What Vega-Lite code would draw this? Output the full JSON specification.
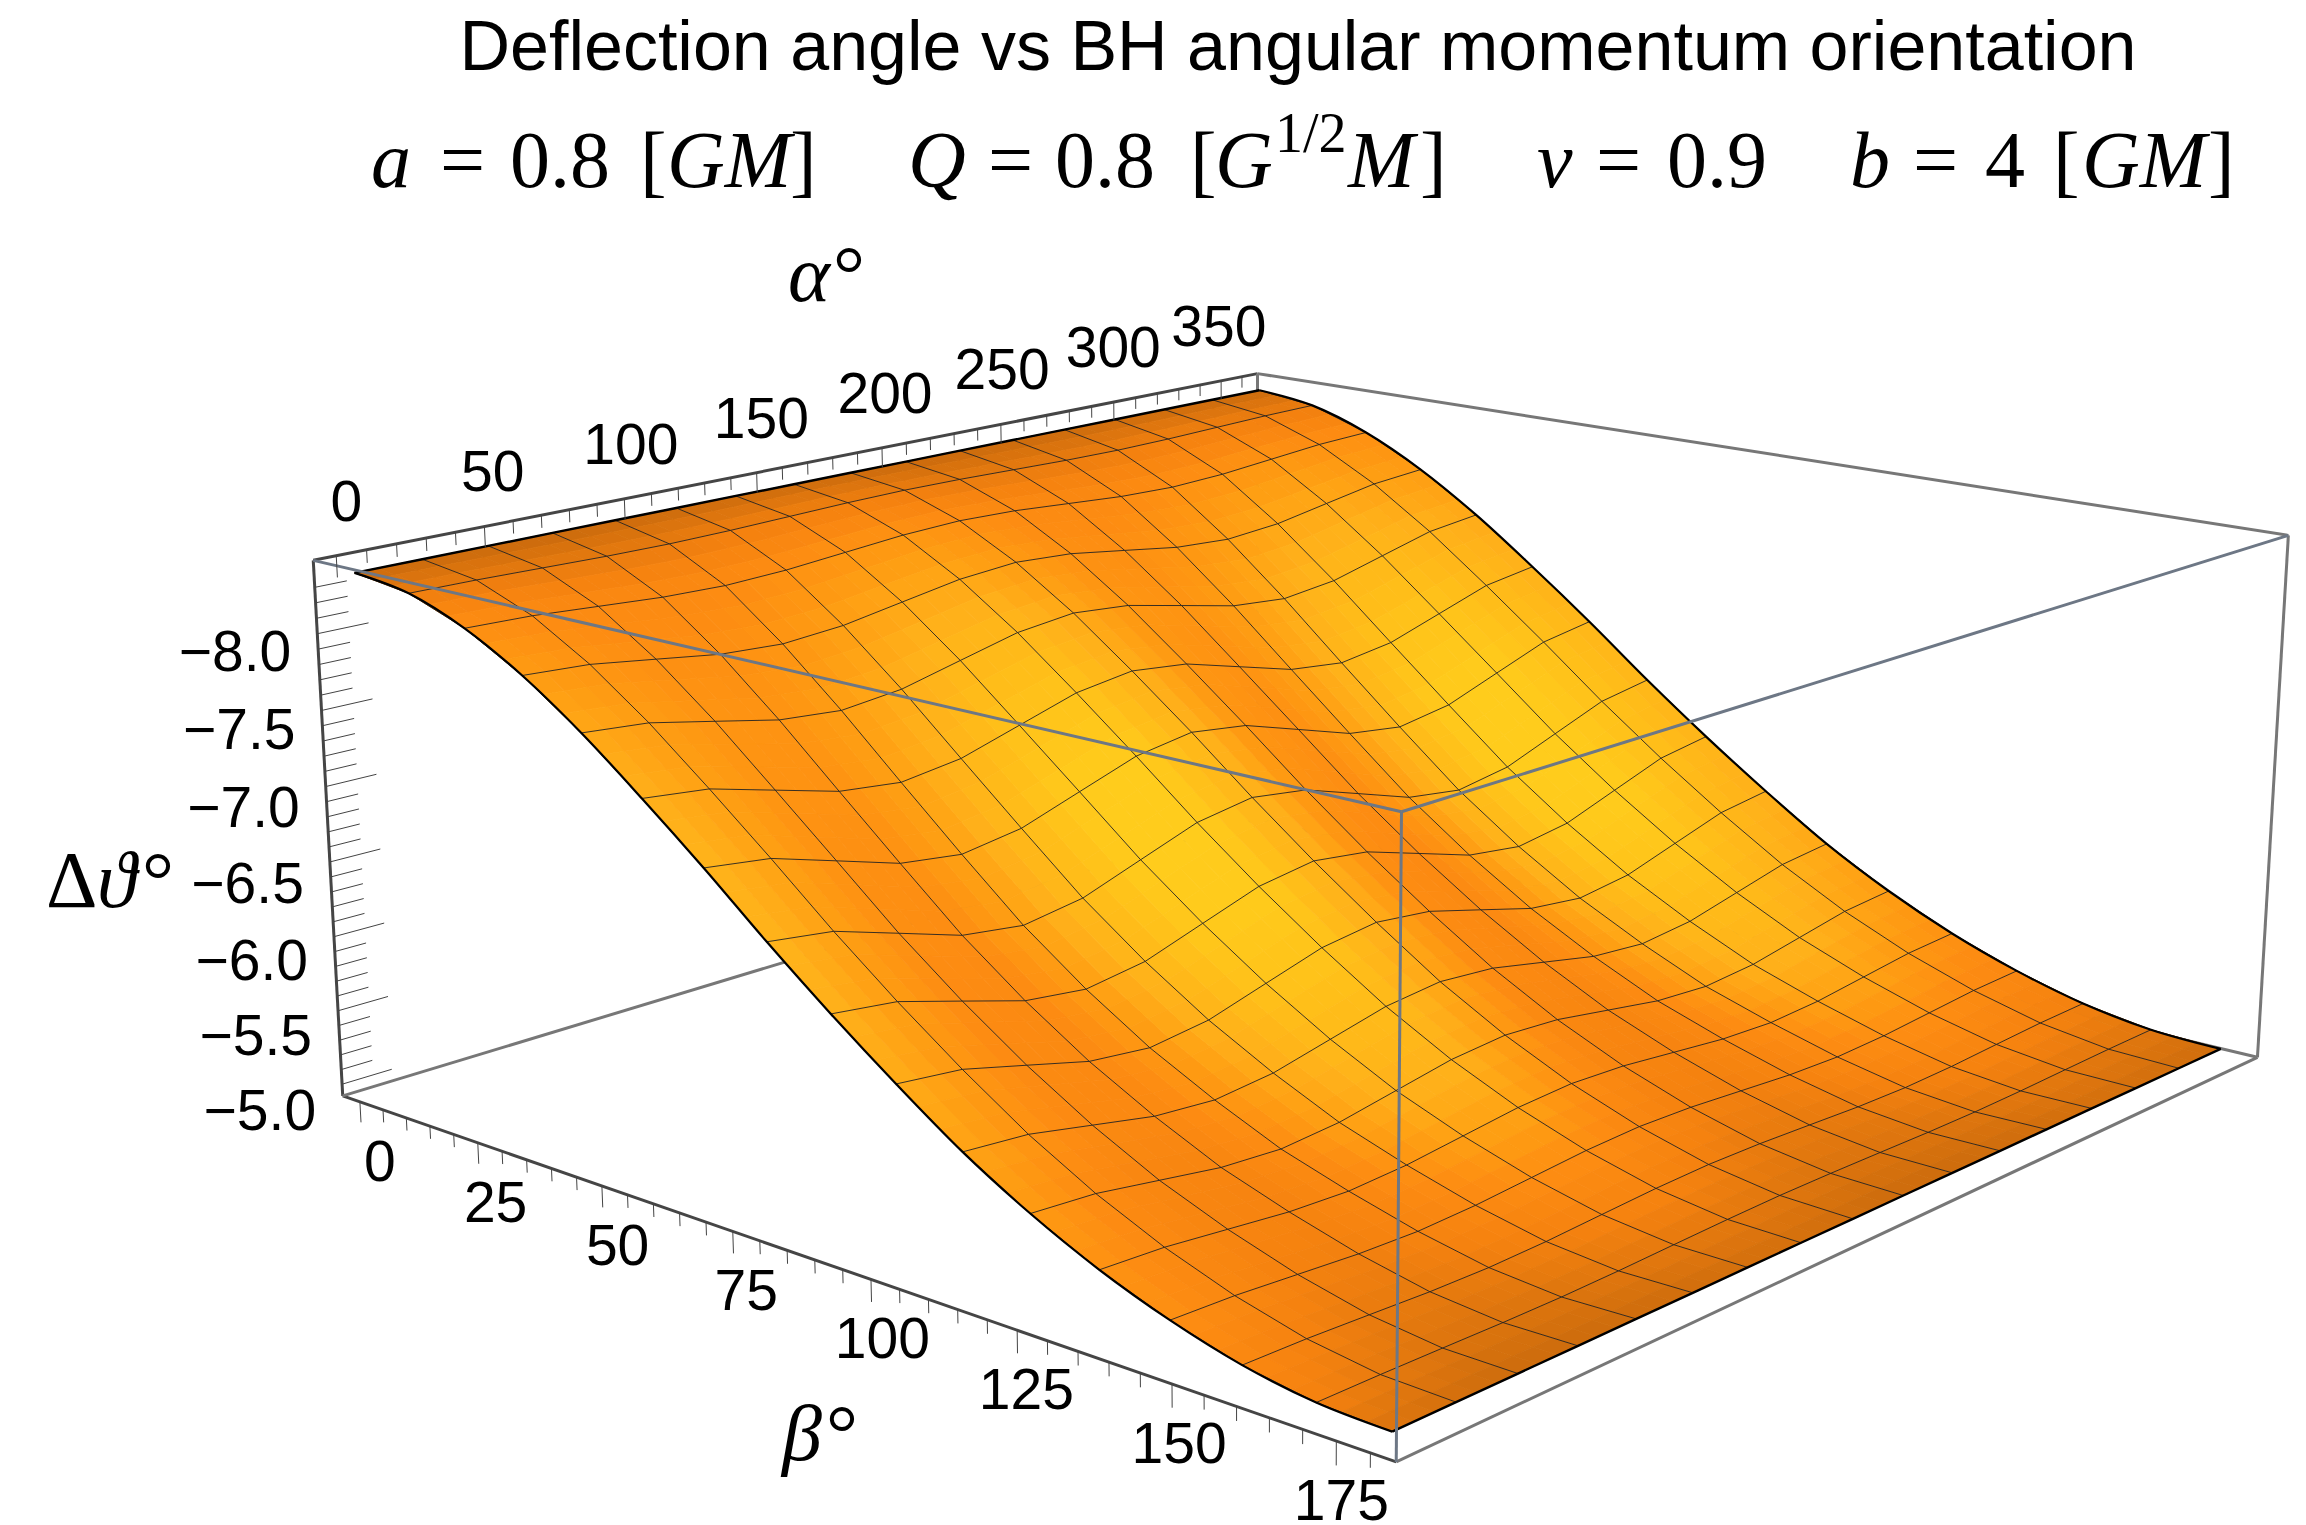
{"$schema":"https://vega.github.io/schema/vega-lite/v6.json","width":2306,"height":1525,"padding":0,"autosize":"none","background":"white","config":{"view":{"stroke":null},"axis":{"disable":true},"legend":{"disable":true}},
"datasets":{
"frame":[{"e":"AB","g":"dark","a":-7.5,"b":-3.75,"z":-8.474,"k":0},{"e":"AB","g":"dark","a":367.5,"b":-3.75,"z":-8.474,"k":1},{"e":"AA","g":"dark","a":-7.5,"b":-3.75,"z":-8.474,"k":0},{"e":"AA","g":"dark","a":-7.5,"b":-3.75,"z":-4.92,"k":1},{"e":"LB","g":"dark","a":-7.5,"b":-3.75,"z":-4.92,"k":0},{"e":"LB","g":"dark","a":-7.5,"b":183.75,"z":-4.92,"k":1},{"e":"BC","g":"grey","a":367.5,"b":-3.75,"z":-8.474,"k":0},{"e":"BC","g":"grey","a":367.5,"b":183.75,"z":-8.474,"k":1},{"e":"CC","g":"grey","a":367.5,"b":183.75,"z":-8.474,"k":0},{"e":"CC","g":"grey","a":367.5,"b":183.75,"z":-4.92,"k":1},{"e":"DC","g":"grey","a":-7.5,"b":183.75,"z":-4.92,"k":0},{"e":"DC","g":"grey","a":367.5,"b":183.75,"z":-4.92,"k":1},{"e":"BK1","g":"grey","a":-7.5,"b":-3.75,"z":-4.92,"k":0},{"e":"BK1","g":"grey","a":367.5,"b":-3.75,"z":-4.92,"k":1},{"e":"BK2","g":"grey","a":367.5,"b":-3.75,"z":-4.92,"k":0},{"e":"BK2","g":"grey","a":367.5,"b":183.75,"z":-4.92,"k":1},{"e":"BK3","g":"grey","a":367.5,"b":-3.75,"z":-8.474,"k":0},{"e":"BK3","g":"grey","a":367.5,"b":-3.75,"z":-4.92,"k":1},{"e":"F1","g":"front","a":-7.5,"b":-3.75,"z":-8.474,"k":0},{"e":"F1","g":"front","a":-7.5,"b":183.75,"z":-8.474,"k":1},{"e":"F2","g":"front","a":-7.5,"b":183.75,"z":-8.474,"k":0},{"e":"F2","g":"front","a":367.5,"b":183.75,"z":-8.474,"k":1},{"e":"F3","g":"front","a":-7.5,"b":183.75,"z":-8.474,"k":0},{"e":"F3","g":"front","a":-7.5,"b":183.75,"z":-4.92,"k":1}],
"ticks":[{"axis":"a","v":0},{"axis":"a","v":10},{"axis":"a","v":20},{"axis":"a","v":30},{"axis":"a","v":40},{"axis":"a","v":50},{"axis":"a","v":60},{"axis":"a","v":70},{"axis":"a","v":80},{"axis":"a","v":90},{"axis":"a","v":100},{"axis":"a","v":110},{"axis":"a","v":120},{"axis":"a","v":130},{"axis":"a","v":140},{"axis":"a","v":150},{"axis":"a","v":160},{"axis":"a","v":170},{"axis":"a","v":180},{"axis":"a","v":190},{"axis":"a","v":200},{"axis":"a","v":210},{"axis":"a","v":220},{"axis":"a","v":230},{"axis":"a","v":240},{"axis":"a","v":250},{"axis":"a","v":260},{"axis":"a","v":270},{"axis":"a","v":280},{"axis":"a","v":290},{"axis":"a","v":300},{"axis":"a","v":310},{"axis":"a","v":320},{"axis":"a","v":330},{"axis":"a","v":340},{"axis":"a","v":350},{"axis":"a","v":360},
{"axis":"b","v":0},{"axis":"b","v":5},{"axis":"b","v":10},{"axis":"b","v":15},{"axis":"b","v":20},{"axis":"b","v":25},{"axis":"b","v":30},{"axis":"b","v":35},{"axis":"b","v":40},{"axis":"b","v":45},{"axis":"b","v":50},{"axis":"b","v":55},{"axis":"b","v":60},{"axis":"b","v":65},{"axis":"b","v":70},{"axis":"b","v":75},{"axis":"b","v":80},{"axis":"b","v":85},{"axis":"b","v":90},{"axis":"b","v":95},{"axis":"b","v":100},{"axis":"b","v":105},{"axis":"b","v":110},{"axis":"b","v":115},{"axis":"b","v":120},{"axis":"b","v":125},{"axis":"b","v":130},{"axis":"b","v":135},{"axis":"b","v":140},{"axis":"b","v":145},{"axis":"b","v":150},{"axis":"b","v":155},{"axis":"b","v":160},{"axis":"b","v":165},{"axis":"b","v":170},{"axis":"b","v":175},{"axis":"b","v":180},
{"axis":"z","v":-5.0},{"axis":"z","v":-5.1},{"axis":"z","v":-5.2},{"axis":"z","v":-5.3},{"axis":"z","v":-5.4},{"axis":"z","v":-5.5},{"axis":"z","v":-5.6},{"axis":"z","v":-5.7},{"axis":"z","v":-5.8},{"axis":"z","v":-5.9},{"axis":"z","v":-6.0},{"axis":"z","v":-6.1},{"axis":"z","v":-6.2},{"axis":"z","v":-6.3},{"axis":"z","v":-6.4},{"axis":"z","v":-6.5},{"axis":"z","v":-6.6},{"axis":"z","v":-6.7},{"axis":"z","v":-6.8},{"axis":"z","v":-6.9},{"axis":"z","v":-7.0},{"axis":"z","v":-7.1},{"axis":"z","v":-7.2},{"axis":"z","v":-7.3},{"axis":"z","v":-7.4},{"axis":"z","v":-7.5},{"axis":"z","v":-7.6},{"axis":"z","v":-7.7},{"axis":"z","v":-7.8},{"axis":"z","v":-7.9},{"axis":"z","v":-8.0},{"axis":"z","v":-8.1},{"axis":"z","v":-8.2},{"axis":"z","v":-8.3}],
"grid":[
{"a":0,"b":0,"z":-8.39,"c":0.05},{"a":22.5,"b":0,"z":-8.39,"c":0.05},{"a":45,"b":0,"z":-8.39,"c":0.04},{"a":67.5,"b":0,"z":-8.39,"c":0.04},{"a":90,"b":0,"z":-8.39,"c":0.05},{"a":112.5,"b":0,"z":-8.39,"c":0.05},{"a":135,"b":0,"z":-8.39,"c":0.06},{"a":157.5,"b":0,"z":-8.39,"c":0.06},{"a":180,"b":0,"z":-8.39,"c":0.05},{"a":202.5,"b":0,"z":-8.39,"c":0.04},{"a":225,"b":0,"z":-8.39,"c":0.04},{"a":247.5,"b":0,"z":-8.39,"c":0.05},{"a":270,"b":0,"z":-8.39,"c":0.05},{"a":292.5,"b":0,"z":-8.39,"c":0.06},{"a":315,"b":0,"z":-8.39,"c":0.06},{"a":337.5,"b":0,"z":-8.39,"c":0.05},{"a":360,"b":0,"z":-8.39,"c":0.05},
{"a":0,"b":11.25,"z":-8.339,"c":0.25},{"a":22.5,"b":11.25,"z":-8.334,"c":0.23},{"a":45,"b":11.25,"z":-8.323,"c":0.22},{"a":67.5,"b":11.25,"z":-8.312,"c":0.22},{"a":90,"b":11.25,"z":-8.307,"c":0.23},{"a":112.5,"b":11.25,"z":-8.312,"c":0.26},{"a":135,"b":11.25,"z":-8.323,"c":0.28},{"a":157.5,"b":11.25,"z":-8.334,"c":0.28},{"a":180,"b":11.25,"z":-8.339,"c":0.25},{"a":202.5,"b":11.25,"z":-8.334,"c":0.22},{"a":225,"b":11.25,"z":-8.323,"c":0.22},{"a":247.5,"b":11.25,"z":-8.312,"c":0.23},{"a":270,"b":11.25,"z":-8.307,"c":0.25},{"a":292.5,"b":11.25,"z":-8.312,"c":0.28},{"a":315,"b":11.25,"z":-8.323,"c":0.28},{"a":337.5,"b":11.25,"z":-8.334,"c":0.26},{"a":360,"b":11.25,"z":-8.339,"c":0.25},
{"a":0,"b":22.5,"z":-8.199,"c":0.47},{"a":22.5,"b":22.5,"z":-8.185,"c":0.44},{"a":45,"b":22.5,"z":-8.153,"c":0.42},{"a":67.5,"b":22.5,"z":-8.121,"c":0.42},{"a":90,"b":22.5,"z":-8.107,"c":0.44},{"a":112.5,"b":22.5,"z":-8.121,"c":0.48},{"a":135,"b":22.5,"z":-8.153,"c":0.51},{"a":157.5,"b":22.5,"z":-8.185,"c":0.52},{"a":180,"b":22.5,"z":-8.199,"c":0.47},{"a":202.5,"b":22.5,"z":-8.185,"c":0.43},{"a":225,"b":22.5,"z":-8.153,"c":0.42},{"a":247.5,"b":22.5,"z":-8.121,"c":0.44},{"a":270,"b":22.5,"z":-8.107,"c":0.48},{"a":292.5,"b":22.5,"z":-8.121,"c":0.51},{"a":315,"b":22.5,"z":-8.153,"c":0.52},{"a":337.5,"b":22.5,"z":-8.185,"c":0.49},{"a":360,"b":22.5,"z":-8.199,"c":0.47},
{"a":0,"b":33.75,"z":-7.987,"c":0.56},{"a":22.5,"b":33.75,"z":-7.959,"c":0.51},{"a":45,"b":33.75,"z":-7.895,"c":0.47},{"a":67.5,"b":33.75,"z":-7.83,"c":0.47},{"a":90,"b":33.75,"z":-7.802,"c":0.51},{"a":112.5,"b":33.75,"z":-7.83,"c":0.58},{"a":135,"b":33.75,"z":-7.895,"c":0.64},{"a":157.5,"b":33.75,"z":-7.959,"c":0.64},{"a":180,"b":33.75,"z":-7.987,"c":0.56},{"a":202.5,"b":33.75,"z":-7.959,"c":0.48},{"a":225,"b":33.75,"z":-7.895,"c":0.47},{"a":247.5,"b":33.75,"z":-7.83,"c":0.51},{"a":270,"b":33.75,"z":-7.802,"c":0.57},{"a":292.5,"b":33.75,"z":-7.83,"c":0.64},{"a":315,"b":33.75,"z":-7.895,"c":0.65},{"a":337.5,"b":33.75,"z":-7.959,"c":0.6},{"a":360,"b":33.75,"z":-7.987,"c":0.56},
{"a":0,"b":45,"z":-7.717,"c":0.65},{"a":22.5,"b":45,"z":-7.677,"c":0.57},{"a":45,"b":45,"z":-7.584,"c":0.51},{"a":67.5,"b":45,"z":-7.49,"c":0.5},{"a":90,"b":45,"z":-7.45,"c":0.57},{"a":112.5,"b":45,"z":-7.49,"c":0.68},{"a":135,"b":45,"z":-7.584,"c":0.78},{"a":157.5,"b":45,"z":-7.677,"c":0.79},{"a":180,"b":45,"z":-7.717,"c":0.65},{"a":202.5,"b":45,"z":-7.677,"c":0.52},{"a":225,"b":45,"z":-7.584,"c":0.5},{"a":247.5,"b":45,"z":-7.49,"c":0.56},{"a":270,"b":45,"z":-7.45,"c":0.67},{"a":292.5,"b":45,"z":-7.49,"c":0.78},{"a":315,"b":45,"z":-7.584,"c":0.79},{"a":337.5,"b":45,"z":-7.677,"c":0.72},{"a":360,"b":45,"z":-7.717,"c":0.66},
{"a":0,"b":56.25,"z":-7.404,"c":0.71},{"a":22.5,"b":56.25,"z":-7.354,"c":0.59},{"a":45,"b":56.25,"z":-7.237,"c":0.5},{"a":67.5,"b":56.25,"z":-7.12,"c":0.49},{"a":90,"b":56.25,"z":-7.07,"c":0.59},{"a":112.5,"b":56.25,"z":-7.12,"c":0.75},{"a":135,"b":56.25,"z":-7.237,"c":0.9},{"a":157.5,"b":56.25,"z":-7.354,"c":0.91},{"a":180,"b":56.25,"z":-7.404,"c":0.71},{"a":202.5,"b":56.25,"z":-7.354,"c":0.52},{"a":225,"b":56.25,"z":-7.237,"c":0.49},{"a":247.5,"b":56.25,"z":-7.12,"c":0.58},{"a":270,"b":56.25,"z":-7.07,"c":0.74},{"a":292.5,"b":56.25,"z":-7.12,"c":0.9},{"a":315,"b":56.25,"z":-7.237,"c":0.92},{"a":337.5,"b":56.25,"z":-7.354,"c":0.81},{"a":360,"b":56.25,"z":-7.404,"c":0.72},
{"a":0,"b":67.5,"z":-7.074,"c":0.75},{"a":22.5,"b":67.5,"z":-7.017,"c":0.6},{"a":45,"b":67.5,"z":-6.886,"c":0.48},{"a":67.5,"b":67.5,"z":-6.754,"c":0.47},{"a":90,"b":67.5,"z":-6.697,"c":0.6},{"a":112.5,"b":67.5,"z":-6.754,"c":0.81},{"a":135,"b":67.5,"z":-6.886,"c":0.99},{"a":157.5,"b":67.5,"z":-7.017,"c":1},{"a":180,"b":67.5,"z":-7.074,"c":0.75},{"a":202.5,"b":67.5,"z":-7.017,"c":0.51},{"a":225,"b":67.5,"z":-6.886,"c":0.47},{"a":247.5,"b":67.5,"z":-6.754,"c":0.58},{"a":270,"b":67.5,"z":-6.697,"c":0.79},{"a":292.5,"b":67.5,"z":-6.754,"c":0.99},{"a":315,"b":67.5,"z":-6.886,"c":1},{"a":337.5,"b":67.5,"z":-7.017,"c":0.88},{"a":360,"b":67.5,"z":-7.074,"c":0.76},
{"a":0,"b":78.75,"z":-6.725,"c":0.75},{"a":22.5,"b":78.75,"z":-6.667,"c":0.59},{"a":45,"b":78.75,"z":-6.532,"c":0.47},{"a":67.5,"b":78.75,"z":-6.396,"c":0.45},{"a":90,"b":78.75,"z":-6.338,"c":0.59},{"a":112.5,"b":78.75,"z":-6.396,"c":0.81},{"a":135,"b":78.75,"z":-6.532,"c":1},{"a":157.5,"b":78.75,"z":-6.667,"c":1},{"a":180,"b":78.75,"z":-6.725,"c":0.75},{"a":202.5,"b":78.75,"z":-6.667,"c":0.5},{"a":225,"b":78.75,"z":-6.532,"c":0.45},{"a":247.5,"b":78.75,"z":-6.396,"c":0.57},{"a":270,"b":78.75,"z":-6.338,"c":0.8},{"a":292.5,"b":78.75,"z":-6.396,"c":1},{"a":315,"b":78.75,"z":-6.532,"c":1},{"a":337.5,"b":78.75,"z":-6.667,"c":0.89},{"a":360,"b":78.75,"z":-6.725,"c":0.77},
{"a":0,"b":90,"z":-6.395,"c":0.72},{"a":22.5,"b":90,"z":-6.341,"c":0.56},{"a":45,"b":90,"z":-6.215,"c":0.44},{"a":67.5,"b":90,"z":-6.088,"c":0.42},{"a":90,"b":90,"z":-6.034,"c":0.56},{"a":112.5,"b":90,"z":-6.088,"c":0.78},{"a":135,"b":90,"z":-6.215,"c":0.98},{"a":157.5,"b":90,"z":-6.341,"c":0.99},{"a":180,"b":90,"z":-6.395,"c":0.72},{"a":202.5,"b":90,"z":-6.341,"c":0.47},{"a":225,"b":90,"z":-6.215,"c":0.42},{"a":247.5,"b":90,"z":-6.088,"c":0.54},{"a":270,"b":90,"z":-6.034,"c":0.77},{"a":292.5,"b":90,"z":-6.088,"c":0.98},{"a":315,"b":90,"z":-6.215,"c":1},{"a":337.5,"b":90,"z":-6.341,"c":0.86},{"a":360,"b":90,"z":-6.395,"c":0.74},
{"a":0,"b":101.25,"z":-6.086,"c":0.68},{"a":22.5,"b":101.25,"z":-6.039,"c":0.53},{"a":45,"b":101.25,"z":-5.929,"c":0.42},{"a":67.5,"b":101.25,"z":-5.818,"c":0.41},{"a":90,"b":101.25,"z":-5.771,"c":0.53},{"a":112.5,"b":101.25,"z":-5.818,"c":0.73},{"a":135,"b":101.25,"z":-5.929,"c":0.91},{"a":157.5,"b":101.25,"z":-6.039,"c":0.92},{"a":180,"b":101.25,"z":-6.086,"c":0.68},{"a":202.5,"b":101.25,"z":-6.039,"c":0.45},{"a":225,"b":101.25,"z":-5.929,"c":0.41},{"a":247.5,"b":101.25,"z":-5.818,"c":0.52},{"a":270,"b":101.25,"z":-5.771,"c":0.72},{"a":292.5,"b":101.25,"z":-5.818,"c":0.91},{"a":315,"b":101.25,"z":-5.929,"c":0.94},{"a":337.5,"b":101.25,"z":-6.039,"c":0.8},{"a":360,"b":101.25,"z":-6.086,"c":0.69},
{"a":0,"b":112.5,"z":-5.798,"c":0.62},{"a":22.5,"b":112.5,"z":-5.762,"c":0.5},{"a":45,"b":112.5,"z":-5.677,"c":0.41},{"a":67.5,"b":112.5,"z":-5.592,"c":0.4},{"a":90,"b":112.5,"z":-5.556,"c":0.5},{"a":112.5,"b":112.5,"z":-5.592,"c":0.66},{"a":135,"b":112.5,"z":-5.677,"c":0.81},{"a":157.5,"b":112.5,"z":-5.762,"c":0.82},{"a":180,"b":112.5,"z":-5.798,"c":0.62},{"a":202.5,"b":112.5,"z":-5.762,"c":0.43},{"a":225,"b":112.5,"z":-5.677,"c":0.4},{"a":247.5,"b":112.5,"z":-5.592,"c":0.49},{"a":270,"b":112.5,"z":-5.556,"c":0.65},{"a":292.5,"b":112.5,"z":-5.592,"c":0.81},{"a":315,"b":112.5,"z":-5.677,"c":0.83},{"a":337.5,"b":112.5,"z":-5.762,"c":0.72},{"a":360,"b":112.5,"z":-5.798,"c":0.63},
{"a":0,"b":123.75,"z":-5.556,"c":0.55},{"a":22.5,"b":123.75,"z":-5.528,"c":0.44},{"a":45,"b":123.75,"z":-5.462,"c":0.36},{"a":67.5,"b":123.75,"z":-5.396,"c":0.35},{"a":90,"b":123.75,"z":-5.368,"c":0.44},{"a":112.5,"b":123.75,"z":-5.396,"c":0.59},{"a":135,"b":123.75,"z":-5.462,"c":0.72},{"a":157.5,"b":123.75,"z":-5.528,"c":0.73},{"a":180,"b":123.75,"z":-5.556,"c":0.55},{"a":202.5,"b":123.75,"z":-5.528,"c":0.38},{"a":225,"b":123.75,"z":-5.462,"c":0.35},{"a":247.5,"b":123.75,"z":-5.396,"c":0.43},{"a":270,"b":123.75,"z":-5.368,"c":0.58},{"a":292.5,"b":123.75,"z":-5.396,"c":0.72},{"a":315,"b":123.75,"z":-5.462,"c":0.74},{"a":337.5,"b":123.75,"z":-5.528,"c":0.64},{"a":360,"b":123.75,"z":-5.556,"c":0.56},
{"a":0,"b":135,"z":-5.354,"c":0.5},{"a":22.5,"b":135,"z":-5.335,"c":0.41},{"a":45,"b":135,"z":-5.292,"c":0.34},{"a":67.5,"b":135,"z":-5.249,"c":0.32},{"a":90,"b":135,"z":-5.23,"c":0.39},{"a":112.5,"b":135,"z":-5.249,"c":0.5},{"a":135,"b":135,"z":-5.292,"c":0.6},{"a":157.5,"b":135,"z":-5.335,"c":0.61},{"a":180,"b":135,"z":-5.354,"c":0.47},{"a":202.5,"b":135,"z":-5.335,"c":0.34},{"a":225,"b":135,"z":-5.292,"c":0.32},{"a":247.5,"b":135,"z":-5.249,"c":0.38},{"a":270,"b":135,"z":-5.23,"c":0.49},{"a":292.5,"b":135,"z":-5.249,"c":0.6},{"a":315,"b":135,"z":-5.292,"c":0.61},{"a":337.5,"b":135,"z":-5.335,"c":0.54},{"a":360,"b":135,"z":-5.354,"c":0.48},
{"a":0,"b":146.25,"z":-5.194,"c":0.48},{"a":22.5,"b":146.25,"z":-5.181,"c":0.38},{"a":45,"b":146.25,"z":-5.152,"c":0.3},{"a":67.5,"b":146.25,"z":-5.123,"c":0.28},{"a":90,"b":146.25,"z":-5.11,"c":0.33},{"a":112.5,"b":146.25,"z":-5.123,"c":0.4},{"a":135,"b":146.25,"z":-5.152,"c":0.47},{"a":157.5,"b":146.25,"z":-5.181,"c":0.47},{"a":180,"b":146.25,"z":-5.194,"c":0.38},{"a":202.5,"b":146.25,"z":-5.181,"c":0.3},{"a":225,"b":146.25,"z":-5.152,"c":0.28},{"a":247.5,"b":146.25,"z":-5.123,"c":0.32},{"a":270,"b":146.25,"z":-5.11,"c":0.4},{"a":292.5,"b":146.25,"z":-5.123,"c":0.47},{"a":315,"b":146.25,"z":-5.152,"c":0.48},{"a":337.5,"b":146.25,"z":-5.181,"c":0.43},{"a":360,"b":146.25,"z":-5.194,"c":0.39},
{"a":0,"b":157.5,"z":-5.073,"c":0.4},{"a":22.5,"b":157.5,"z":-5.065,"c":0.3},{"a":45,"b":157.5,"z":-5.047,"c":0.23},{"a":67.5,"b":157.5,"z":-5.028,"c":0.22},{"a":90,"b":157.5,"z":-5.02,"c":0.25},{"a":112.5,"b":157.5,"z":-5.028,"c":0.29},{"a":135,"b":157.5,"z":-5.047,"c":0.33},{"a":157.5,"b":157.5,"z":-5.065,"c":0.33},{"a":180,"b":157.5,"z":-5.073,"c":0.28},{"a":202.5,"b":157.5,"z":-5.065,"c":0.23},{"a":225,"b":157.5,"z":-5.047,"c":0.22},{"a":247.5,"b":157.5,"z":-5.028,"c":0.24},{"a":270,"b":157.5,"z":-5.02,"c":0.29},{"a":292.5,"b":157.5,"z":-5.028,"c":0.33},{"a":315,"b":157.5,"z":-5.047,"c":0.34},{"a":337.5,"b":157.5,"z":-5.065,"c":0.31},{"a":360,"b":157.5,"z":-5.073,"c":0.28},
{"a":0,"b":168.75,"z":-5.002,"c":0.3},{"a":22.5,"b":168.75,"z":-4.998,"c":0.22},{"a":45,"b":168.75,"z":-4.99,"c":0.16},{"a":67.5,"b":168.75,"z":-4.981,"c":0.15},{"a":90,"b":168.75,"z":-4.977,"c":0.16},{"a":112.5,"b":168.75,"z":-4.981,"c":0.19},{"a":135,"b":168.75,"z":-4.99,"c":0.21},{"a":157.5,"b":168.75,"z":-4.998,"c":0.21},{"a":180,"b":168.75,"z":-5.002,"c":0.18},{"a":202.5,"b":168.75,"z":-4.998,"c":0.15},{"a":225,"b":168.75,"z":-4.99,"c":0.15},{"a":247.5,"b":168.75,"z":-4.981,"c":0.16},{"a":270,"b":168.75,"z":-4.977,"c":0.18},{"a":292.5,"b":168.75,"z":-4.981,"c":0.21},{"a":315,"b":168.75,"z":-4.99,"c":0.21},{"a":337.5,"b":168.75,"z":-4.998,"c":0.19},{"a":360,"b":168.75,"z":-5.002,"c":0.18},
{"a":0,"b":180,"z":-4.984,"c":0.15},{"a":22.5,"b":180,"z":-4.984,"c":0.1},{"a":45,"b":180,"z":-4.984,"c":0.06},{"a":67.5,"b":180,"z":-4.984,"c":0.06},{"a":90,"b":180,"z":-4.984,"c":0.07},{"a":112.5,"b":180,"z":-4.984,"c":0.08},{"a":135,"b":180,"z":-4.984,"c":0.1},{"a":157.5,"b":180,"z":-4.984,"c":0.1},{"a":180,"b":180,"z":-4.984,"c":0.08},{"a":202.5,"b":180,"z":-4.984,"c":0.06},{"a":225,"b":180,"z":-4.984,"c":0.06},{"a":247.5,"b":180,"z":-4.984,"c":0.07},{"a":270,"b":180,"z":-4.984,"c":0.08},{"a":292.5,"b":180,"z":-4.984,"c":0.1},{"a":315,"b":180,"z":-4.984,"c":0.1},{"a":337.5,"b":180,"z":-4.984,"c":0.09},{"a":360,"b":180,"z":-4.984,"c":0.08}
]},
"encoding":{"x":{"field":"px","type":"quantitative","scale":{"domain":[0,2306],"nice":false,"zero":false}},"y":{"field":"py","type":"quantitative","scale":{"domain":[1525,0],"nice":false,"zero":false}}},
"layer":[
{"data":{"name":"frame"},"transform":[{"filter":"datum.g=='grey'||datum.g=='dark'"},{"calculate":"0.02+0.96*datum.a/360","as":"U"},{"calculate":"0.02+0.96*datum.b/180","as":"W"},{"calculate":"(datum.z+8.474)/3.554","as":"S"},{"calculate":"1+0.22267*datum.U-0.19418*datum.W+0.032*datum.S","as":"H"},{"calculate":"1.4707*(213+832.4*datum.U+554.9*datum.W+27.5*datum.S)/datum.H","as":"px"},{"calculate":"1.4707*(381-70.4*datum.U+63.8*datum.W+388*datum.S)/datum.H","as":"py"}],"mark":{"type":"line","strokeWidth":3},"encoding":{"detail":{"field":"e"},"order":{"field":"k"},"color":{"field":"g","type":"nominal","scale":{"domain":["dark","grey","front"],"range":["#454545","#777777","#6d7785"]}}}},
{"data":{"name":"grid"},"transform":[{"joinaggregate":[{"op":"values","field":"z","as":"all"}]},{"filter":"datum.a<360&&datum.b<180"},{"calculate":"datum.a/22.5","as":"i"},{"calculate":"datum.b/11.25","as":"j"},{"calculate":"datum.all[datum.j*17+datum.i+1]","as":"n10"},{"calculate":"datum.all[datum.j*17+17+datum.i]","as":"n01"},{"calculate":"datum.all[datum.j*17+17+datum.i+1]","as":"n11"},{"calculate":"[0,1,2]","as":"p"},{"flatten":["p"]},{"calculate":"[0,1,2]","as":"q"},{"flatten":["q"]},{"calculate":"[0,1,2,3]","as":"k"},{"flatten":["k"]},{"calculate":"(datum.p+(datum.k==1||datum.k==2?1:0))/3","as":"fu"},{"calculate":"(datum.q+(datum.k>=2?1:0))/3","as":"fw"},{"calculate":"(datum.p+0.5)/3","as":"cu"},{"calculate":"(datum.q+0.5)/3","as":"cw"},{"calculate":"(1-datum.fu)*(1-datum.fw)*datum.z+datum.fu*(1-datum.fw)*datum.n10.z+(1-datum.fu)*datum.fw*datum.n01.z+datum.fu*datum.fw*datum.n11.z","as":"z2"},{"calculate":"(1-datum.cu)*(1-datum.cw)*datum.c+datum.cu*(1-datum.cw)*datum.n10.c+(1-datum.cu)*datum.cw*datum.n01.c+datum.cu*datum.cw*datum.n11.c","as":"shade"},{"calculate":"datum.i*10000+datum.j*100+datum.p*10+datum.q","as":"quad"},{"calculate":"0.02+0.96*(datum.i+datum.fu)/16","as":"U"},{"calculate":"0.02+0.96*(datum.j+datum.fw)/16","as":"W"},{"calculate":"(datum.z2+8.474)/3.554","as":"S"},{"calculate":"1+0.22267*datum.U-0.19418*datum.W+0.032*datum.S","as":"H"},{"calculate":"1.4707*(213+832.4*datum.U+554.9*datum.W+27.5*datum.S)/datum.H","as":"px"},{"calculate":"1.4707*(381-70.4*datum.U+63.8*datum.W+388*datum.S)/datum.H","as":"py"}],"mark":{"type":"line","interpolate":"linear-closed","strokeWidth":0.8},"encoding":{"detail":{"field":"quad"},"order":{"field":"k"},"fill":{"field":"shade","type":"quantitative","scale":{"domain":[0,0.3,0.45,0.7,1],"range":["#c2660c","#f5820f","#fd8c12","#ffb01a","#ffcc1c"]}},"stroke":{"field":"shade","type":"quantitative","scale":{"domain":[0,0.3,0.45,0.7,1],"range":["#c2660c","#f5820f","#fd8c12","#ffb01a","#ffcc1c"]}}}},
{"data":{"name":"grid"},"transform":[{"calculate":"0.02+0.96*datum.a/360","as":"U"},{"calculate":"0.02+0.96*datum.b/180","as":"W"},{"calculate":"(datum.z+8.474)/3.554","as":"S"},{"calculate":"1+0.22267*datum.U-0.19418*datum.W+0.032*datum.S","as":"H"},{"calculate":"1.4707*(213+832.4*datum.U+554.9*datum.W+27.5*datum.S)/datum.H","as":"px"},{"calculate":"1.4707*(381-70.4*datum.U+63.8*datum.W+388*datum.S)/datum.H","as":"py"}],"mark":{"type":"line","stroke":"#222","strokeWidth":0.9},"encoding":{"detail":{"field":"a"},"order":{"field":"b"}}},
{"data":{"name":"grid"},"transform":[{"calculate":"0.02+0.96*datum.a/360","as":"U"},{"calculate":"0.02+0.96*datum.b/180","as":"W"},{"calculate":"(datum.z+8.474)/3.554","as":"S"},{"calculate":"1+0.22267*datum.U-0.19418*datum.W+0.032*datum.S","as":"H"},{"calculate":"1.4707*(213+832.4*datum.U+554.9*datum.W+27.5*datum.S)/datum.H","as":"px"},{"calculate":"1.4707*(381-70.4*datum.U+63.8*datum.W+388*datum.S)/datum.H","as":"py"}],"mark":{"type":"line","stroke":"#222","strokeWidth":0.9},"encoding":{"detail":{"field":"b"},"order":{"field":"a"}}},
{"data":{"name":"grid"},"transform":[{"filter":"datum.a==0||datum.a==360"},{"calculate":"0.02+0.96*datum.a/360","as":"U"},{"calculate":"0.02+0.96*datum.b/180","as":"W"},{"calculate":"(datum.z+8.474)/3.554","as":"S"},{"calculate":"1+0.22267*datum.U-0.19418*datum.W+0.032*datum.S","as":"H"},{"calculate":"1.4707*(213+832.4*datum.U+554.9*datum.W+27.5*datum.S)/datum.H","as":"px"},{"calculate":"1.4707*(381-70.4*datum.U+63.8*datum.W+388*datum.S)/datum.H","as":"py"}],"mark":{"type":"line","stroke":"#000","strokeWidth":2.2,"interpolate":"monotone"},"encoding":{"detail":{"field":"a"},"order":{"field":"b"}}},
{"data":{"name":"grid"},"transform":[{"filter":"datum.b==0||datum.b==180"},{"calculate":"0.02+0.96*datum.a/360","as":"U"},{"calculate":"0.02+0.96*datum.b/180","as":"W"},{"calculate":"(datum.z+8.474)/3.554","as":"S"},{"calculate":"1+0.22267*datum.U-0.19418*datum.W+0.032*datum.S","as":"H"},{"calculate":"1.4707*(213+832.4*datum.U+554.9*datum.W+27.5*datum.S)/datum.H","as":"px"},{"calculate":"1.4707*(381-70.4*datum.U+63.8*datum.W+388*datum.S)/datum.H","as":"py"}],"mark":{"type":"line","stroke":"#000","strokeWidth":2.4},"encoding":{"detail":{"field":"b"},"order":{"field":"a"}}},
{"data":{"name":"frame"},"transform":[{"filter":"datum.g=='front'"},{"calculate":"0.02+0.96*datum.a/360","as":"U"},{"calculate":"0.02+0.96*datum.b/180","as":"W"},{"calculate":"(datum.z+8.474)/3.554","as":"S"},{"calculate":"1+0.22267*datum.U-0.19418*datum.W+0.032*datum.S","as":"H"},{"calculate":"1.4707*(213+832.4*datum.U+554.9*datum.W+27.5*datum.S)/datum.H","as":"px"},{"calculate":"1.4707*(381-70.4*datum.U+63.8*datum.W+388*datum.S)/datum.H","as":"py"}],"mark":{"type":"line","stroke":"#6d7785","strokeWidth":3},"encoding":{"detail":{"field":"e"},"order":{"field":"k"}}},
{"data":{"name":"ticks"},"transform":[{"calculate":"datum.axis=='a'?datum.v%50==0:(datum.axis=='b'?datum.v%25==0:round(abs(datum.v)*10)%5==0)","as":"M"},{"calculate":"[0,1]","as":"k"},{"flatten":["k"]},{"calculate":"datum.axis=='a'?datum.v:(-7.5+(datum.axis=='z'&&datum.k==1?(datum.M?16.9:10.5):0))","as":"a"},{"calculate":"datum.axis=='b'?datum.v:-3.75","as":"b"},{"calculate":"datum.axis=='z'?datum.v:((datum.axis=='a'?-8.474:-4.92)+(datum.k==1?(datum.M?0.14:0.085):0))","as":"z"},{"calculate":"datum.axis+datum.v","as":"tick"},{"calculate":"0.02+0.96*datum.a/360","as":"U"},{"calculate":"0.02+0.96*datum.b/180","as":"W"},{"calculate":"(datum.z+8.474)/3.554","as":"S"},{"calculate":"1+0.22267*datum.U-0.19418*datum.W+0.032*datum.S","as":"H"},{"calculate":"1.4707*(213+832.4*datum.U+554.9*datum.W+27.5*datum.S)/datum.H","as":"px"},{"calculate":"1.4707*(381-70.4*datum.U+63.8*datum.W+388*datum.S)/datum.H","as":"py"}],"mark":{"type":"line","stroke":"#444","strokeWidth":1},"encoding":{"detail":{"field":"tick"},"order":{"field":"k"}}},
{"data":{"name":"ticks"},"transform":[{"filter":"datum.axis=='a'&&datum.v%50==0&&datum.v<360"},{"calculate":"datum.v","as":"a"},{"calculate":"-3.75","as":"b"},{"calculate":"-8.474","as":"z"},{"calculate":"0.02+0.96*datum.a/360","as":"U"},{"calculate":"0.02+0.96*datum.b/180","as":"W"},{"calculate":"(datum.z+8.474)/3.554","as":"S"},{"calculate":"1+0.22267*datum.U-0.19418*datum.W+0.032*datum.S","as":"H"},{"calculate":"1.4707*(213+832.4*datum.U+554.9*datum.W+27.5*datum.S)/datum.H+10-0.035*datum.v","as":"px"},{"calculate":"1.4707*(381-70.4*datum.U+63.8*datum.W+388*datum.S)/datum.H","as":"py"}],"mark":{"type":"text","font":"Liberation Sans","fontSize":57,"align":"center","baseline":"middle","dy":-52,"fill":"#000"},"encoding":{"text":{"field":"v"}}},
{"data":{"name":"ticks"},"transform":[{"filter":"datum.axis=='b'&&datum.v%25==0&&datum.v<180"},{"calculate":"-7.5","as":"a"},{"calculate":"datum.v","as":"b"},{"calculate":"-4.92","as":"z"},{"calculate":"0.02+0.96*datum.a/360","as":"U"},{"calculate":"0.02+0.96*datum.b/180","as":"W"},{"calculate":"(datum.z+8.474)/3.554","as":"S"},{"calculate":"1+0.22267*datum.U-0.19418*datum.W+0.032*datum.S","as":"H"},{"calculate":"1.4707*(213+832.4*datum.U+554.9*datum.W+27.5*datum.S)/datum.H+20-0.086*datum.v","as":"px"},{"calculate":"1.4707*(381-70.4*datum.U+63.8*datum.W+388*datum.S)/datum.H","as":"py"}],"mark":{"type":"text","font":"Liberation Sans","fontSize":57,"align":"center","baseline":"middle","dy":62,"fill":"#000"},"encoding":{"text":{"field":"v"}}},
{"data":{"name":"ticks"},"transform":[{"filter":"datum.axis=='z'&&round(abs(datum.v)*10)%5==0"},{"calculate":"-7.5","as":"a"},{"calculate":"-3.75","as":"b"},{"calculate":"datum.v","as":"z"},{"calculate":"'−'+format(abs(datum.v),'.1f')","as":"lab"},{"calculate":"0.02+0.96*datum.a/360","as":"U"},{"calculate":"0.02+0.96*datum.b/180","as":"W"},{"calculate":"(datum.z+8.474)/3.554","as":"S"},{"calculate":"1+0.22267*datum.U-0.19418*datum.W+0.032*datum.S","as":"H"},{"calculate":"1.4707*(213+832.4*datum.U+554.9*datum.W+27.5*datum.S)/datum.H","as":"px"},{"calculate":"1.4707*(381-70.4*datum.U+63.8*datum.W+388*datum.S)/datum.H+6+3*(datum.v+8)","as":"py"}],"mark":{"type":"text","font":"Liberation Sans","fontSize":57,"align":"right","baseline":"middle","dx":-26,"dy":14,"fill":"#000"},"encoding":{"text":{"field":"lab"}}},
{"data":{"values":[{"t":"Deflection angle vs BH angular momentum orientation"}]},"transform":[{"calculate":"1298","as":"px"},{"calculate":"70","as":"py"}],"mark":{"type":"text","font":"Liberation Sans","fontSize":70,"align":"center","baseline":"alphabetic","fill":"#000"},"encoding":{"text":{"field":"t"}}},
{"data":{"values":[{"t":"=","n":0},{"t":"0.8","n":1},{"t":"[","n":2},{"t":"]","n":3},{"t":"=","n":4},{"t":"0.8","n":5},{"t":"[","n":6},{"t":"]","n":7},{"t":"=","n":8},{"t":"0.9","n":9},{"t":"=","n":10},{"t":"4","n":11},{"t":"[","n":12},{"t":"]","n":13},{"t":"°","n":14},{"t":"°","n":15},{"t":"Δ","n":16},{"t":"°","n":17}]},"transform":[{"calculate":"[440,510,640,790,988,1055,1190,1420,1596,1667,1913,1985,2053,2208,833,826,46,142][datum.n]","as":"px"},{"calculate":"datum.n<14?187:[301,1460,907,907][datum.n-14]","as":"py"}],"mark":{"type":"text","font":"Liberation Serif","fontSize":80,"align":"left","baseline":"alphabetic","fill":"#000"},"encoding":{"text":{"field":"t"}}},
{"data":{"values":[{"t":"a","n":0},{"t":"GM","n":1},{"t":"Q","n":2},{"t":"G","n":3},{"t":"M","n":4},{"t":"v","n":5},{"t":"b","n":6},{"t":"GM","n":7},{"t":"α","n":8},{"t":"β","n":9},{"t":"ϑ","n":10}]},"transform":[{"calculate":"[371,667,908,1215,1348,1537,1850,2082,788,782,97][datum.n]","as":"px"},{"calculate":"datum.n<8?187:[301,1460,907][datum.n-8]","as":"py"}],"mark":{"type":"text","font":"Liberation Serif","fontStyle":"italic","fontSize":80,"align":"left","baseline":"alphabetic","fill":"#000"},"encoding":{"text":{"field":"t"}}},
{"data":{"values":[{"t":"1/2"}]},"transform":[{"calculate":"1275","as":"px"},{"calculate":"152","as":"py"}],"mark":{"type":"text","font":"Liberation Serif","fontSize":56,"align":"left","baseline":"alphabetic","fill":"#000"},"encoding":{"text":{"field":"t"}}}
]}
